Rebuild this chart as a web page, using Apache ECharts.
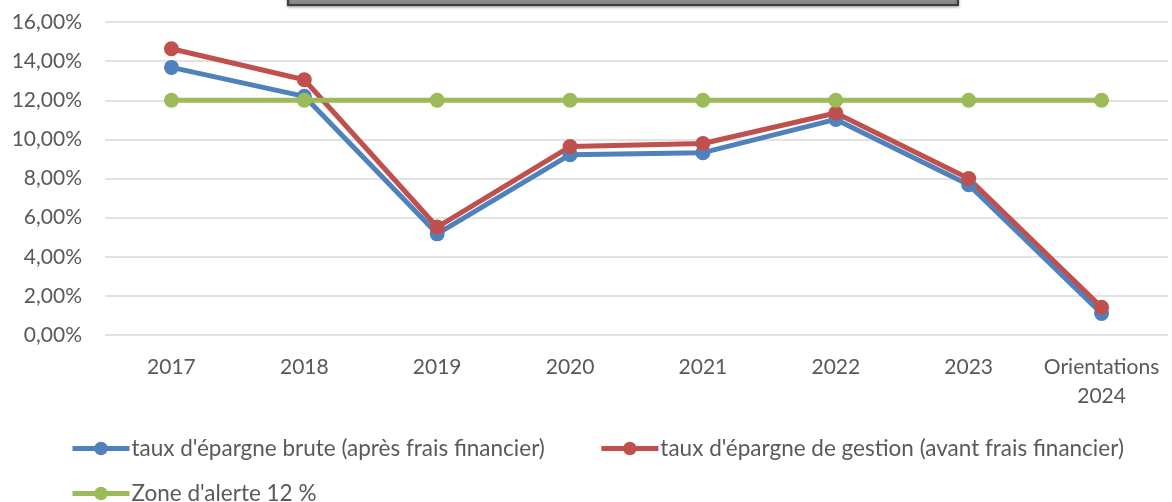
<!DOCTYPE html>
<html>
<head>
<meta charset="utf-8">
<script src="https://cdn.jsdelivr.net/npm/echarts@6/dist/echarts.min.js"></script>
<style>
  html, body { margin: 0; padding: 0; background: #fff; }
  #main { width: 1172px; height: 502px; }
</style>
</head>
<body>
<div id="main"></div>
<script>
// années / catégories
const categories = ['2017', '2018', '2019', '2020', '2021', '2022', '2023', 'Orientations\n2024'];

// taux en %
const tauxBrute = [13.68, 12.2, 5.17, 9.22, 9.32, 11.02, 7.68, 1.1];
const tauxGestion = [14.63, 13.05, 5.52, 9.63, 9.79, 11.35, 8.0, 1.42];
const zoneAlerte = [12, 12, 12, 12, 12, 12, 12, 12];

const seriesNames = [
  "taux d'épargne brute (après frais financier)",
  "taux d'épargne de gestion (avant frais financier)",
  "Zone d'alerte 12 %"
];

const yTicks = { min: 0, max: 16, interval: 2 };

const chartDom = document.getElementById('main');
const myChart = echarts.init(chartDom);

const font = 'Lato, "Open Sans", sans-serif';
const txt = '#595959';

function lineSeries(name, data, color) {
  return {
    name: name,
    type: 'line',
    data: data,
    symbol: 'circle',
    symbolSize: 15,
    lineStyle: { width: 5, color: color },
    itemStyle: { color: color },
    animation: false
  };
}

const legendBase = {
  left: 70,
  padding: 0,
  itemWidth: 57, itemHeight: 17, itemGap: 54,
  lineStyle: { width: 5 },
  textStyle: { color: txt, fontSize: 22.5, padding: [0, 0, 0, -3], fontFamily: font }
};

const option = {
  backgroundColor: '#fff',
  textStyle: { fontFamily: font },
  grid: { left: 105, right: 4, top: 22, bottom: 167, containLabel: false },
  xAxis: {
    type: 'category',
    data: categories,
    boundaryGap: true,
    axisLine: { show: false },
    axisTick: { show: false },
    axisLabel: { interval: 0, color: txt, fontSize: 21, margin: 18, lineHeight: 29, fontFamily: font }
  },
  yAxis: {
    type: 'value',
    min: yTicks.min,
    max: yTicks.max,
    interval: yTicks.interval,
    axisLine: { show: false },
    axisTick: { show: false },
    splitLine: { lineStyle: { color: '#d9d9d9', width: 1.5 } },
    axisLabel: {
      color: txt, fontSize: 21, margin: 23, fontFamily: font,
      formatter: v => v.toFixed(2).replace('.', ',') + '%'
    }
  },
  legend: [
    Object.assign({}, legendBase, { data: [seriesNames[0], seriesNames[1]], top: 437 }),
    Object.assign({}, legendBase, { data: [seriesNames[2]], top: 482 })
  ],
  graphic: [
    {
      type: 'rect',
      shape: { x: 288, y: -6, width: 670, height: 11 },
      style: { fill: '#8c8c8c', stroke: '#3f3f3f', lineWidth: 2, shadowBlur: 3, shadowColor: 'rgba(0,0,0,0.35)', shadowOffsetY: 1 }
    }
  ],
  series: [
    lineSeries(seriesNames[0], tauxBrute, '#4f81bd'),
    lineSeries(seriesNames[1], tauxGestion, '#c0504d'),
    lineSeries(seriesNames[2], zoneAlerte, '#9bbb59')
  ]
};

myChart.setOption(option);
</script>
</body>
</html>
